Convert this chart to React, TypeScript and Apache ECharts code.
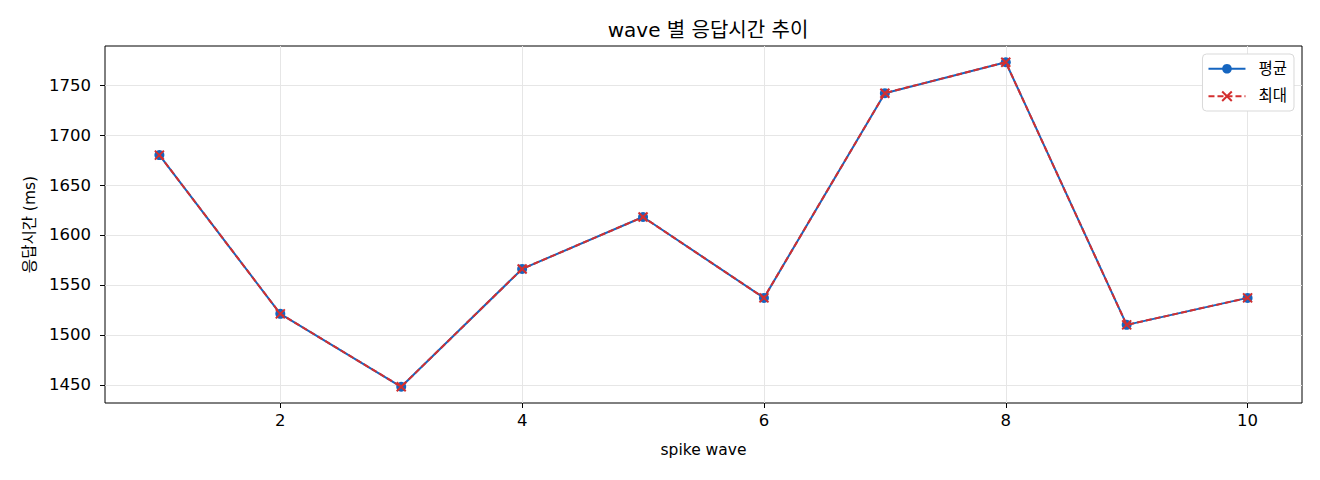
import { useEffect, useRef } from "react"
import * as echarts from "echarts"

// wave 번호와 응답시간 (ms)
const waves = [1, 2, 3, 4, 5, 6, 7, 8, 9, 10]
const avgMs = [1680, 1521, 1448, 1566, 1618, 1537, 1742, 1773, 1510, 1537]
const maxMs = [1680, 1521, 1448, 1566, 1618, 1537, 1742, 1773, 1510, 1537]
const xTicks = [2, 4, 6, 8, 10]
const yTicks = [1450, 1500, 1550, 1600, 1650, 1700, 1750]

const FONT = "'DejaVu Sans', 'Noto Sans CJK KR', sans-serif"
const BLUE = "#1565c0"
const RED = "#d32f2f"

const App = () => {
  const chartRef = useRef<HTMLDivElement>(null)

  useEffect(() => {
    if (!chartRef.current) return
    const chart = echarts.init(chartRef.current, null, { renderer: "svg" })

    const tickStyle = { show: true, inside: false, length: 5, lineStyle: { color: "#000", width: 1 } }
    const labelStyle = { fontFamily: FONT, fontSize: 15.5, color: "#000" }

    chart.setOption({
      animation: false,
      textStyle: { fontFamily: FONT },
      title: {
        text: "wave 별 응답시간 추이",
        left: 703,
        textAlign: "center",
        top: 15,
        textStyle: { fontFamily: FONT, fontSize: 20, fontWeight: "normal", color: "#000" },
      },
      legend: {
        orient: "vertical",
        right: 26,
        top: 54,
        itemWidth: 37,
        itemHeight: 12,
        itemGap: 12,
        padding: [7, 7, 7, 5],
        borderColor: "#d9d9d9",
        borderWidth: 1,
        borderRadius: 4,
        backgroundColor: "#fff",
        textStyle: { fontFamily: FONT, fontSize: 15.5, color: "#000", padding: [0, 0, 0, 8] },
        data: ["평균", "최대"],
      },
      grid: {
        left: 105,
        right: 18,
        top: 46,
        bottom: 77,
        show: true,
        borderColor: "#000",
        borderWidth: 1,
        backgroundColor: "transparent",
      },
      xAxis: {
        type: "value",
        min: 0.55,
        max: 10.45,
        name: "spike wave",
        nameLocation: "middle",
        nameGap: 39,
        nameTextStyle: labelStyle,
        axisLine: { show: false },
        axisTick: { ...tickStyle, customValues: xTicks },
        axisLabel: { ...labelStyle, fontSize: 16.5, customValues: xTicks, margin: 9 },
        splitLine: { show: true, lineStyle: { color: "#e6e6e6", width: 1 } },
      },
      yAxis: {
        type: "value",
        min: 1431.75,
        max: 1789.25,
        name: "응답시간 (ms)",
        nameLocation: "middle",
        nameGap: 66,
        nameTextStyle: labelStyle,
        axisLine: { show: false },
        axisTick: { ...tickStyle, customValues: yTicks },
        axisLabel: {
          ...labelStyle,
          fontSize: 16.5,
          customValues: yTicks,
          margin: 14,
          formatter: (v: number) => String(v),
        },
        splitLine: { show: true, lineStyle: { color: "#e6e6e6", width: 1 } },
      },
      series: [
        {
          name: "평균",
          type: "line",
          data: waves.map((w, i) => [w, avgMs[i]]),
          symbol: "circle",
          symbolSize: 10,
          lineStyle: { color: BLUE, width: 2 },
          itemStyle: { color: BLUE },
          z: 2,
        },
        {
          name: "최대",
          type: "line",
          data: waves.map((w, i) => [w, maxMs[i]]),
          symbol: "path://M0,0L10,10M10,0L0,10",
          symbolSize: 9,
          lineStyle: { color: RED, width: 2, type: [6, 3] },
          itemStyle: { color: "none", borderColor: RED, borderWidth: 2 },
          z: 3,
        },
      ],
    })

    return () => {
      chart.dispose()
    }
  }, [])

  return (
    <div
      ref={chartRef}
      style={{ position: "fixed", left: 0, top: 0, width: 1320, height: 480, background: "#fff" }}
    />
  )
}

export default App
